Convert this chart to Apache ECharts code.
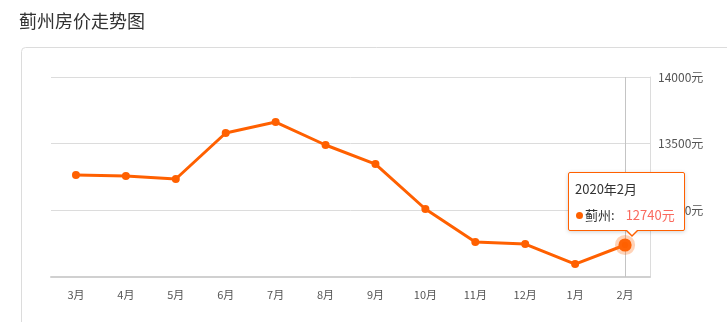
<!DOCTYPE html>
<html>
<head>
<meta charset="utf-8">
<script src="https://cdn.jsdelivr.net/npm/echarts@6/dist/echarts.min.js"></script>
<style>
html,body{margin:0;padding:0;background:#fff;}
#c{width:727px;height:322px;}
</style>
</head>
<body>
<div id="c"></div>
<script>
const titleText = '蓟州房价走势图';
const seriesName = '蓟州';
const categories = ['3月','4月','5月','6月','7月','8月','9月','10月','11月','12月','1月','2月'];
const fullLabels = ['2019年3月','2019年4月','2019年5月','2019年6月','2019年7月','2019年8月','2019年9月','2019年10月','2019年11月','2019年12月','2020年1月','2020年2月'];
const prices = [13265, 13257, 13235, 13580, 13662, 13490, 13347, 13010, 12762, 12747, 12597, 12740];
const yTicks = {min: 12500, max: 14000, step: 500};
const unit = '元';

const ORANGE = '#ff6000';
const chart = echarts.init(document.getElementById('c'), null, {renderer: 'canvas'});
const lastIdx = prices.length - 1;
const data = prices.map((v, i) => i === lastIdx ? {
  value: v,
  symbolSize: 12,
  itemStyle: {color: ORANGE, borderColor: 'rgba(255,110,20,0.3)', borderWidth: 7}
} : v);

chart.setOption({
  animation: false,
  textStyle: {fontFamily: '"Noto Sans CJK SC", "Noto Sans", sans-serif'},
  title: {
    text: titleText, left: 14, top: 7,
    textStyle: {fontSize: 18, fontWeight: 'normal', color: '#333', fontFamily: '"Noto Sans CJK SC", sans-serif'}
  },
  graphic: [{
    type: 'rect', silent: true, z: -10,
    shape: {x: 21.5, y: 47.5, width: 740, height: 320, r: 4},
    style: {fill: '#fff', stroke: '#dcdcdc', lineWidth: 1}
  }],
  grid: {left: 51, right: 77, top: 77, bottom: 45},
  axisPointer: {z: 1},
  tooltip: {
    trigger: 'axis',
    alwaysShowContent: true,
    transitionDuration: 0,
    backgroundColor: '#fff',
    borderColor: ORANGE,
    borderWidth: 1,
    borderRadius: 2,
    padding: [6, 6, 5, 6],
    extraCssText: 'box-shadow:0 1px 4px rgba(0,0,0,0.18);overflow:visible;',
    textStyle: {fontSize: 13, color: '#333'},
    axisPointer: {type: 'line', z: 1, lineStyle: {color: '#c4c4c4', width: 1, type: 'solid'}},
    position: function (pt) { return [pt[0] - 57, 172]; },
    formatter: function (params) {
      const p = params[0];
      return '<div style="position:relative;font-family:\'Noto Sans CJK SC\',sans-serif;font-size:13px;color:#333;line-height:20px;width:103px;">' +
        '<div style="margin-bottom:6px;">' + fullLabels[p.dataIndex] + '</div>' +
        '<div style="white-space:nowrap;"><span style="display:inline-block;width:7px;height:7px;border-radius:50%;background:' + ORANGE + ';margin-right:2px;margin-left:1px;vertical-align:1px;"></span>' +
        p.seriesName + ':<span style="color:#fa6a5e;margin-left:11px;">' + p.value + unit + '</span></div>' +
        '<div style="position:absolute;left:51px;bottom:-12px;width:0;height:0;border-left:6px solid transparent;border-right:6px solid transparent;border-top:6px solid ' + ORANGE + ';"></div>' +
        '<div style="position:absolute;left:52px;bottom:-10px;width:0;height:0;border-left:5px solid transparent;border-right:5px solid transparent;border-top:5px solid #fff;"></div>' +
        '</div>';
    }
  },
  xAxis: {
    type: 'category',
    data: categories,
    boundaryGap: true,
    axisLine: {lineStyle: {color: '#d0d0d0', width: 2}},
    axisTick: {alignWithLabel: true, length: 4, lineStyle: {color: '#d0d0d0'}},
    axisLabel: {color: '#555', fontSize: 11, margin: 12}
  },
  yAxis: {
    type: 'value',
    position: 'right',
    min: yTicks.min, max: yTicks.max, interval: yTicks.step,
    axisLine: {show: true, lineStyle: {color: '#dcdcdc', width: 1}},
    axisTick: {show: false},
    splitLine: {lineStyle: {color: '#dcdcdc'}},
    axisLabel: {color: '#555', fontSize: 12, margin: 8, showMinLabel: false,
      formatter: function (v) { return String(v) + unit; }}
  },
  series: [{
    name: seriesName,
    type: 'line',
    z: 3,
    data: data,
    symbol: 'circle',
    symbolSize: 8,
    lineStyle: {color: ORANGE, width: 3},
    itemStyle: {color: ORANGE},
    emphasis: {disabled: true}
  }]
});
chart.dispatchAction({type: 'showTip', seriesIndex: 0, dataIndex: lastIdx});
</script>
</body>
</html>
